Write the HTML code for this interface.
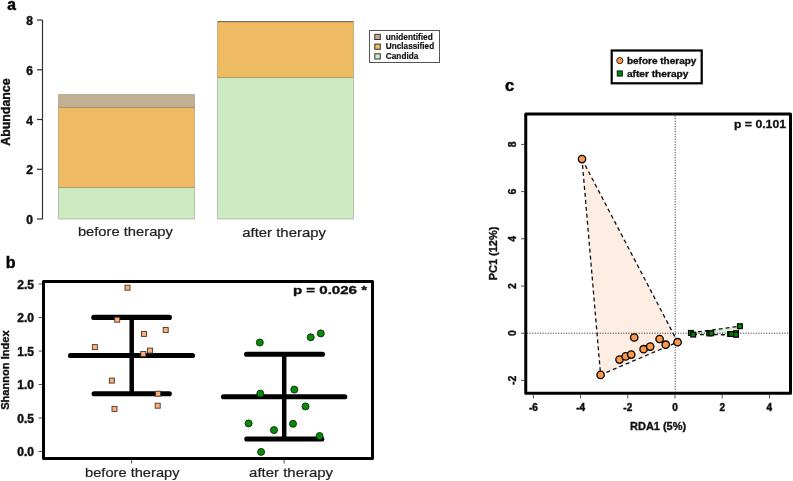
<!DOCTYPE html>
<html><head><meta charset="utf-8"><style>
html,body{margin:0;padding:0;background:#fff;width:793px;height:481px;overflow:hidden}
svg{display:block;will-change:transform}
text{font-family:"Liberation Sans",sans-serif;font-variant-ligatures:none}
.b{font-weight:bold}
</style></head><body>
<svg width="793" height="481" viewBox="0 0 793 481">
<rect width="793" height="481" fill="#fff"/>
<!-- ===== Panel a ===== -->
<text x="7.2" y="9.7" class="b" font-size="15.6" stroke="#111" stroke-width="0.5">a</text>
<g stroke="#333" stroke-width="1.2" fill="none">
<line x1="42.5" y1="20" x2="42.5" y2="219.2"/>
<line x1="37" y1="20" x2="42.5" y2="20"/>
<line x1="37" y1="69.8" x2="42.5" y2="69.8"/>
<line x1="37" y1="119.5" x2="42.5" y2="119.5"/>
<line x1="37" y1="169.3" x2="42.5" y2="169.3"/>
<line x1="37" y1="219" x2="42.5" y2="219"/>
</g>
<g class="b" font-size="12" text-anchor="end" fill="#111" stroke="#111" stroke-width="0.45">
<text x="33" y="25.1">8</text>
<text x="33" y="74.8">6</text>
<text x="33" y="124.6">4</text>
<text x="33" y="174.3">2</text>
<text x="33" y="224">0</text>
</g>
<text class="b" font-size="12" transform="translate(10.3,112.1) rotate(-90)" text-anchor="middle" textLength="67.4" lengthAdjust="spacingAndGlyphs" fill="#111" stroke="#111" stroke-width="0.4">Abundance</text>
<g stroke="rgba(100,80,60,0.32)" stroke-width="1">
<rect x="58.5" y="187.5" width="136" height="31.5" fill="#CCEBC2"/>
<rect x="58.5" y="107.5" width="136" height="80" fill="#EEBA62"/>
<rect x="58.5" y="94.5" width="136" height="13" fill="#C3B092"/>
<rect x="217.5" y="77.5" width="136" height="141.5" fill="#CCEBC2"/>
<rect x="217.5" y="22" width="136" height="55.5" fill="#EEBA62"/>
</g>
<line x1="217.5" y1="21.5" x2="353.5" y2="21.5" stroke="#7a6e5e" stroke-width="1"/>
<g font-size="13" fill="#222" text-anchor="middle" stroke="#222" stroke-width="0.2">
<text x="125.4" y="236.2" textLength="95" lengthAdjust="spacingAndGlyphs">before therapy</text>
<text x="284.1" y="236.5" textLength="83.8" lengthAdjust="spacingAndGlyphs">after therapy</text>
</g>
<rect x="369.5" y="30.5" width="70" height="32" fill="#fff" stroke="#555" stroke-width="1"/>
<g stroke="#333" stroke-width="1">
<rect x="374.8" y="34.3" width="5.5" height="5.2" fill="#C3B092"/>
<rect x="374.8" y="44.1" width="5.5" height="5.2" fill="#EEBA62"/>
<rect x="374.8" y="53.8" width="5.5" height="5.2" fill="#CCEBC2"/>
</g>
<g class="b" font-size="8.9" fill="#111" stroke="#111" stroke-width="0.2" style="font-variant-ligatures:none;font-feature-settings:'liga' 0">
<text x="385.8" y="39.7" textLength="47" lengthAdjust="spacingAndGlyphs">unidentified</text>
<text x="385.8" y="49.4" textLength="48.4" lengthAdjust="spacingAndGlyphs">Unclassified</text>
<text x="385.8" y="59.3" textLength="32.6" lengthAdjust="spacingAndGlyphs">Candida</text>
</g>
<!-- ===== Panel b ===== -->
<text x="5.7" y="267.7" class="b" font-size="16" stroke="#111" stroke-width="0.5">b</text>
<g stroke="#555" stroke-width="1">
<line x1="38.6" y1="284" x2="42" y2="284"/>
<line x1="38.6" y1="317.5" x2="42" y2="317.5"/>
<line x1="38.6" y1="351" x2="42" y2="351"/>
<line x1="38.6" y1="384.5" x2="42" y2="384.5"/>
<line x1="38.6" y1="418" x2="42" y2="418"/>
<line x1="38.6" y1="451.5" x2="42" y2="451.5"/>
<line x1="131.6" y1="460" x2="131.6" y2="463.5"/>
<line x1="284.1" y1="460" x2="284.1" y2="463.5"/>
</g>
<g class="b" font-size="12" text-anchor="end" fill="#111" stroke="#111" stroke-width="0.45">
<text x="34" y="288.5">2.5</text>
<text x="34" y="322">2.0</text>
<text x="34" y="355.5">1.5</text>
<text x="34" y="389">1.0</text>
<text x="34" y="422.5">0.5</text>
<text x="34" y="456">0.0</text>
</g>
<text class="b" font-size="11" transform="translate(9.4,370.1) rotate(-90)" text-anchor="middle" textLength="79.4" lengthAdjust="spacingAndGlyphs" fill="#111" stroke="#111" stroke-width="0.35">Shannon Index</text>
<rect x="43.5" y="281.5" width="329" height="177" fill="none" stroke="#000" stroke-width="3" stroke-linejoin="round"/>
<text x="293" y="294.1" class="b" font-size="11" textLength="74" lengthAdjust="spacingAndGlyphs" fill="#111" stroke="#111" stroke-width="0.35">p = 0.026 *</text>
<g stroke="#000" stroke-linecap="round" fill="none" stroke-width="5.1">
<line x1="93.8" y1="317.4" x2="169.4" y2="317.4"/>
<line x1="70.5" y1="355.5" x2="192.5" y2="355.5"/>
<line x1="94.1" y1="393.7" x2="169.3" y2="393.7"/>
<line x1="131.7" y1="317.4" x2="131.7" y2="393.7" stroke-width="4.5" stroke-linecap="butt"/>
<line x1="246.6" y1="354.3" x2="322.5" y2="354.3"/>
<line x1="223.5" y1="396.7" x2="344.8" y2="396.7"/>
<line x1="246.8" y1="439" x2="321.8" y2="439"/>
<line x1="284.2" y1="354.3" x2="284.2" y2="439" stroke-width="4.5" stroke-linecap="butt"/>
</g>
<g fill="#FBAF7C" stroke="#4a3526" stroke-width="0.9">
<rect x="125.00" y="285.20" width="5" height="5"/>
<rect x="114.70" y="317.20" width="5" height="5"/>
<rect x="141.50" y="331.40" width="5" height="5"/>
<rect x="163.20" y="327.50" width="5" height="5"/>
<rect x="92.35" y="344.60" width="5" height="5"/>
<rect x="147.50" y="348.10" width="5" height="5"/>
<rect x="140.80" y="351.50" width="5" height="5"/>
<rect x="109.30" y="378.10" width="5" height="5"/>
<rect x="112.00" y="406.40" width="5" height="5"/>
<rect x="155.60" y="391.20" width="5" height="5"/>
<rect x="155.20" y="403.20" width="5" height="5"/>
</g>
<g fill="#068C06" stroke="#0a2a0a" stroke-width="0.9">
<circle cx="259.8" cy="342.5" r="3.5"/>
<circle cx="310.7" cy="337.3" r="3.5"/>
<circle cx="320.8" cy="333.4" r="3.5"/>
<circle cx="260.3" cy="393.6" r="3.5"/>
<circle cx="294.3" cy="389.6" r="3.5"/>
<circle cx="305.5" cy="406.4" r="3.5"/>
<circle cx="248.6" cy="423.4" r="3.5"/>
<circle cx="274" cy="430.1" r="3.5"/>
<circle cx="293" cy="423.8" r="3.5"/>
<circle cx="319.6" cy="436.0" r="3.5"/>
<circle cx="261.1" cy="451.9" r="3.5"/>
</g>
<g font-size="13" fill="#222" text-anchor="middle" stroke="#222" stroke-width="0.2">
<text x="132.3" y="477.1" textLength="94.4" lengthAdjust="spacingAndGlyphs">before therapy</text>
<text x="291.1" y="476.9" textLength="84" lengthAdjust="spacingAndGlyphs">after therapy</text>
</g>
<!-- ===== Panel c ===== -->
<text x="505" y="90.8" class="b" font-size="16.5" stroke="#111" stroke-width="0.5">c</text>
<rect x="611.7" y="50.5" width="90" height="32.8" fill="#fff" stroke="#000" stroke-width="2.2"/>
<circle cx="619.8" cy="60.6" r="3.1" fill="#FA984C" stroke="#000" stroke-width="0.8"/>
<rect x="617.2" y="70.9" width="5.2" height="5.2" fill="#008000" stroke="#000" stroke-width="0.8"/>
<g class="b" font-size="8.5" fill="#111" stroke="#111" stroke-width="0.3">
<text x="626.9" y="63.6" textLength="69.5" lengthAdjust="spacingAndGlyphs">before therapy</text>
<text x="626.9" y="76.8" textLength="61.5" lengthAdjust="spacingAndGlyphs">after therapy</text>
</g>
<g stroke="#555" stroke-width="1">
<line x1="533.4" y1="394.6" x2="533.4" y2="398.5"/>
<line x1="580.6" y1="394.6" x2="580.6" y2="398.5"/>
<line x1="627.8" y1="394.6" x2="627.8" y2="398.5"/>
<line x1="675" y1="394.6" x2="675" y2="398.5"/>
<line x1="722.2" y1="394.6" x2="722.2" y2="398.5"/>
<line x1="769.4" y1="394.6" x2="769.4" y2="398.5"/>
<line x1="521" y1="144.4" x2="524.3" y2="144.4"/>
<line x1="521" y1="191.6" x2="524.3" y2="191.6"/>
<line x1="521" y1="238.8" x2="524.3" y2="238.8"/>
<line x1="521" y1="286" x2="524.3" y2="286"/>
<line x1="521" y1="333.2" x2="524.3" y2="333.2"/>
<line x1="521" y1="380.4" x2="524.3" y2="380.4"/>
</g>
<g class="b" font-size="10" text-anchor="middle" fill="#111" stroke="#111" stroke-width="0.45">
<text x="533.4" y="411.2">-6</text>
<text x="580.6" y="411.2">-4</text>
<text x="627.8" y="411.2">-2</text>
<text x="675" y="411.2">0</text>
<text x="722.2" y="411.2">2</text>
<text x="769.4" y="411.2">4</text>
</g>
<g class="b" font-size="10.5" text-anchor="middle" fill="#111" stroke="#111" stroke-width="0.4">
<text transform="translate(515.6,144.4) rotate(-90)">8</text>
<text transform="translate(515.6,191.6) rotate(-90)">6</text>
<text transform="translate(515.6,238.8) rotate(-90)">4</text>
<text transform="translate(515.6,286) rotate(-90)">2</text>
<text transform="translate(515.6,333.2) rotate(-90)">0</text>
<text transform="translate(515.6,380.4) rotate(-90)">-2</text>
</g>
<text x="630.1" y="429.7" class="b" font-size="11" textLength="56" lengthAdjust="spacingAndGlyphs" fill="#111" stroke="#111" stroke-width="0.35">RDA1 (5%)</text>
<text class="b" font-size="11" transform="translate(496.9,253.5) rotate(-90)" text-anchor="middle" textLength="53.6" lengthAdjust="spacingAndGlyphs" fill="#111" stroke="#111" stroke-width="0.35">PC1 (12%)</text>
<text x="734" y="127.9" class="b" font-size="10.5" textLength="52" lengthAdjust="spacingAndGlyphs" fill="#111" stroke="#111" stroke-width="0.3">p = 0.101</text>
<polygon points="582,159.1 677.7,342.1 600.6,374.9" fill="#FEEDE3" stroke="#111" stroke-width="1.3" stroke-dasharray="4 3"/>
<polygon points="690.9,332.9 739.9,326.2 736,334.8 693.2,334.6" fill="#DAF0DA" stroke="#111" stroke-width="1.3" stroke-dasharray="4 3"/>
<g stroke="#333" stroke-width="1" stroke-dasharray="1.1 1.5" fill="none">
<line x1="527" y1="333.2" x2="789" y2="333.2"/>
<line x1="675.2" y1="115.5" x2="675.2" y2="391.5"/>
</g>
<g fill="#FA984C" stroke="#000" stroke-width="1.3">
<circle cx="582" cy="159.1" r="3.7"/>
<circle cx="600.6" cy="374.9" r="3.7"/>
<circle cx="619.5" cy="359.6" r="3.7"/>
<circle cx="625.7" cy="356.4" r="3.7"/>
<circle cx="631.2" cy="354.6" r="3.7"/>
<circle cx="634.2" cy="337.5" r="3.7"/>
<circle cx="643.6" cy="349.2" r="3.7"/>
<circle cx="650.2" cy="346.6" r="3.7"/>
<circle cx="659.6" cy="339" r="3.7"/>
<circle cx="665.7" cy="344.7" r="3.7"/>
<circle cx="677.6" cy="342.2" r="3.7"/>
</g>
<g fill="#008000" stroke="#000" stroke-width="1.2">
<rect x="688.5" y="330.5" width="4.8" height="4.8"/>
<rect x="690.8" y="332.2" width="4.8" height="4.8"/>
<rect x="706.8" y="331.0" width="4.8" height="4.8"/>
<rect x="708.8" y="330.9" width="4.8" height="4.8"/>
<rect x="727.7" y="331.6" width="4.8" height="4.8"/>
<rect x="728.8" y="331.6" width="4.8" height="4.8"/>
<rect x="733.6" y="330.8" width="4.8" height="4.8"/>
<rect x="733.6" y="332.4" width="4.8" height="4.8"/>
<rect x="737.5" y="323.8" width="4.8" height="4.8"/>
</g>
<rect x="525.75" y="113.9" width="264.75" height="279.3" fill="none" stroke="#000" stroke-width="3" stroke-linejoin="round"/>
</svg>
</body></html>
